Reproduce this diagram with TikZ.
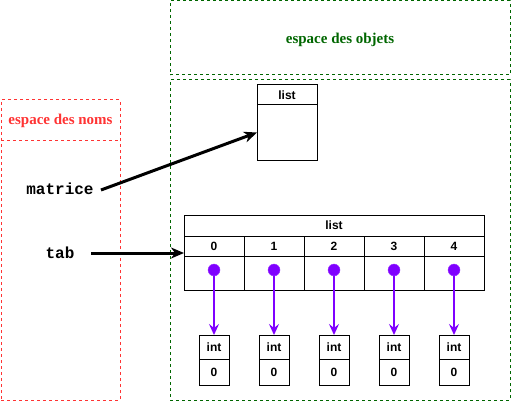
\documentclass[tikz,border=0pt]{standalone}
\usepackage{fontspec}
\setmainfont{Liberation Serif}
\setsansfont{Liberation Sans}
\setmonofont{Liberation Mono}
\usetikzlibrary{arrows.meta}
\definecolor{nsred}{HTML}{FF3333}
\definecolor{objgreen}{HTML}{006600}
\definecolor{ptrpurple}{HTML}{7F00FF}
\tikzset{
  cell/.style={draw=black, line width=1pt, inner sep=0pt, outer sep=0pt, font=\sffamily\bfseries\fontsize{12}{13}\selectfont},
  zone/.style={draw, dashed, dash pattern=on 3pt off 3pt, line width=1pt, inner sep=0pt, outer sep=0pt},
  ref/.style={line width=3pt, -{Stealth[length=13pt,width=11pt,inset=4pt]}},
  ptr/.style={draw=ptrpurple, line width=2pt, -{Stealth[length=11pt,width=10pt,inset=4pt]}},
  dot/.style={circle, fill=ptrpurple, draw=ptrpurple!80!white, minimum size=12pt, inner sep=0pt},
  varname/.style={font=\ttfamily\bfseries\fontsize{16}{18}\selectfont},
  title/.style={font=\bfseries\fontsize{15}{17}\selectfont}
}
\begin{document}
\begin{tikzpicture}[x=1pt,y=-1pt]
\useasboundingbox (0,0) rectangle (511,401);
% zones
\node[zone, draw=nsred, minimum width=119pt, minimum height=300pt] (names) at (60.5,250) {};
\draw[zone, draw=nsred] (1,140) -- (120,140);
\node[title, text=nsred] (namestitle) at (60.5,121) {espace des noms};
\node[zone, draw=objgreen, minimum width=340pt, minimum height=74pt] (objtop) at (340,38) {};
\node[title, text=objgreen] (objtitle) at (340,40) {espace des objets};
\node[zone, draw=objgreen, minimum width=340pt, minimum height=320pt] (objmain) at (340,240) {};
% small list
\node[cell, minimum width=60pt, minimum height=20pt] (lhead) at (287,95) {list};
\node[cell, minimum width=60pt, minimum height=55pt] (lbody) at (287,132.5) {};
% big list
\node[cell, minimum width=300pt, minimum height=21pt] (thead) at (334,225.5) {list};
\foreach \k in {0,...,4} {
  \node[cell, minimum width=60pt, minimum height=20pt] (idx\k) at (214+60*\k,246) {\k};
  \node[cell, minimum width=60pt, minimum height=34pt] (slot\k) at (214+60*\k,273) {};
  \node[dot] (dot\k) at (214+60*\k,270) {};
  \node[cell, minimum width=30pt, minimum height=24pt] (itop\k) at (214+60*\k,347) {int};
  \node[cell, minimum width=30pt, minimum height=26pt] (ival\k) at (214+60*\k,372) {0};
  \draw[ptr] (dot\k.south) -- (itop\k.north);
}
% names
\node[varname] (matrice) at (60,189) {matrice};
\node[varname] (tab) at (60,253) {tab};
\coordinate (mstart) at (101,190);
\coordinate (tstart) at (91,253);
\coordinate (tend) at (184,253);
\draw[ref] (mstart) -- (lbody.west);
\draw[ref] (tstart) -- (tend);
\end{tikzpicture}
\end{document}
